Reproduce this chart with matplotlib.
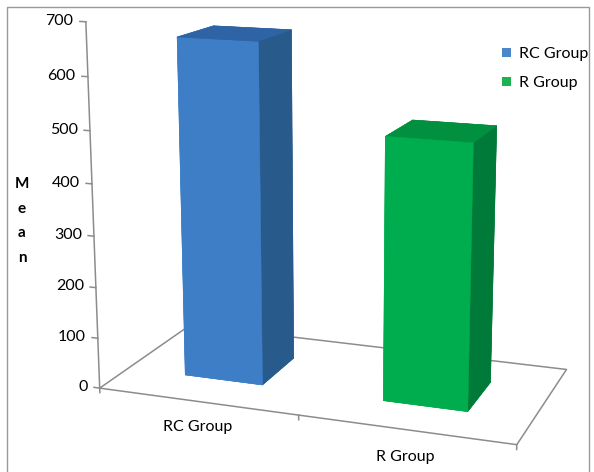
import numpy as np
import matplotlib.pyplot as plt
from matplotlib.patches import Patch
from matplotlib.lines import Line2D
from mpl_toolkits.mplot3d import proj3d

plt.rcParams['font.family'] = ['Lato', 'DejaVu Sans']

groups = ['RC Group', 'R Group']
means = [662, 503]
y_ticks = [0, 100, 200, 300, 400, 500, 600, 700]

front_cols = ['#3d7ec6', '#00ad4e']
top_cols = ['#2e63a5', '#00903f']
side_cols = ['#285a8c', '#007a38']
legend_cols = ['#4a86c8', '#1db24e']
grey = '#8c8c8c'

W, H = 594, 472
fig = plt.figure(figsize=(W / 100, H / 100), dpi=100)

# square 3d panel, placed so the box centre sits near (336, 200) px
S = 455.6
ax = fig.add_axes([102.9 / W, 34.7 / H, S / W, S / H], projection='3d',
                  computed_zorder=False)
ax.set_proj_type('persp', focal_length=0.655)
ax.view_init(elev=14, azim=-70)
ax.set_box_aspect((2, 1, 1.72), zoom=1.298)
ax.set_xlim(0, 2)
ax.set_ylim(0, 1)
ax.set_zlim(0, 700)
# axis drawn by hand below
ax.set_xticks([])
ax.set_yticks([])
ax.set_zticks([])
ax.set_axis_off()

M = ax.get_proj()


def label(x, y, z, s, **kw):
    # put flat text at the screen position of a 3d point
    px, py, _ = proj3d.proj_transform(x, y, z, M)
    ax.text2D(px, py, s, transform=ax.transData, **kw)


line_kw = dict(color=grey, lw=1.1, zorder=1, clip_on=False)

# floor outline, value axis and ticks
ax.plot([0, 2, 2, 0, 0], [0, 0, 1, 1, 0], [0] * 5, **line_kw)
ax.plot([0, 0], [0, 0], [0, 700], **line_kw)
for v in y_ticks:
    ax.plot([-0.03, 0], [0, 0], [v, v], **line_kw)
    label(-0.062, 0, v, str(v), ha='right', va='center', fontsize=11.5)
for k in range(len(groups) + 1):
    ax.plot([k, k], [0, 0], [0, -9], **line_kw)

# columns: width/depth 0.4 with 150% gaps
n = len(groups)
xs = np.arange(n) + 0.3
facecols = []
for i in range(n):
    # bottom, top, front, back, left, right
    facecols += [front_cols[i], top_cols[i], front_cols[i],
                 side_cols[i], front_cols[i], side_cols[i]]
ax.bar3d(xs, np.full(n, 0.3), np.zeros(n), 0.4, 0.4, means,
         color=facecols, edgecolor=facecols, linewidth=0.4,
         shade=False, zorder=3)

for i, g in enumerate(groups):
    label(i + 0.5, 0, -52, g, ha='center', va='center', fontsize=11.5)

fig.text(22 / W, 1 - 221 / H, 'M\ne\na\nn', ha='center', va='center',
         fontweight='bold', fontsize=11, linespacing=1.95)

handles = [Patch(facecolor=c) for c in legend_cols]
fig.legend(handles, groups, loc='upper left', bbox_to_anchor=(502 / W, 1 - 47 / H),
           frameon=False, handlelength=0.55, handleheight=0.55, handletextpad=0.5,
           labelspacing=0.95, fontsize=11.5, borderaxespad=0, borderpad=0)

# outer frame
fig.add_artist(Line2D([7 / W, 7 / W, 589 / W, 589 / W], [0, 1 - 7 / H, 1 - 7 / H, 0],
                      color='#9a9a9a', lw=1))

fig.savefig('out.png', dpi=100)
